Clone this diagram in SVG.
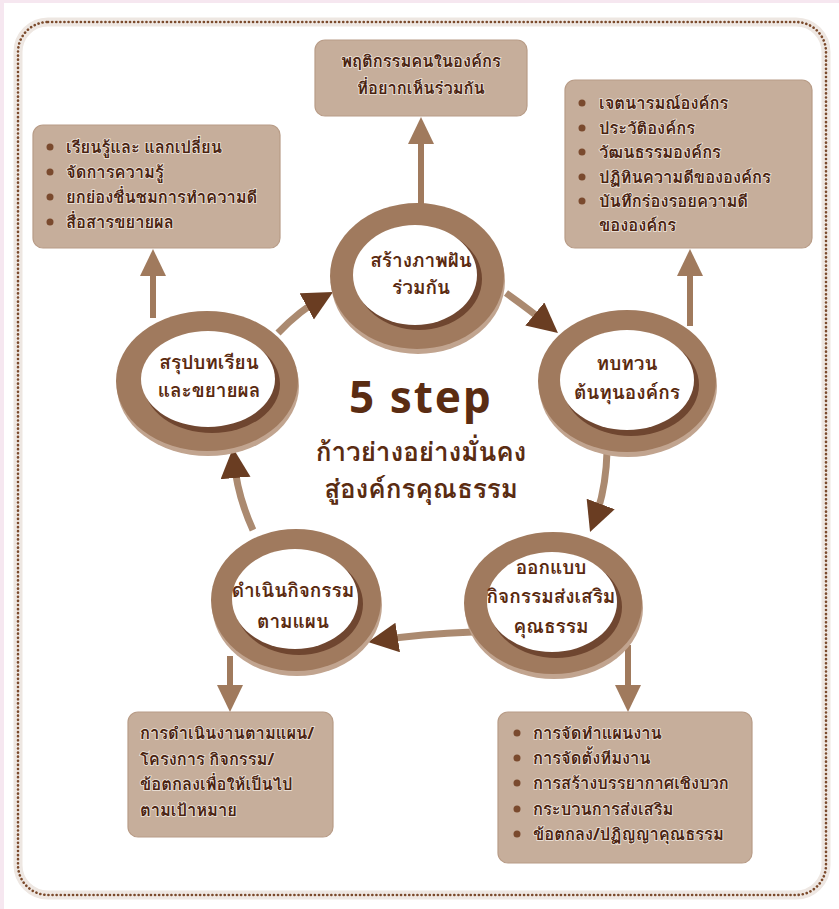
<svg xmlns="http://www.w3.org/2000/svg" width="839" height="909" viewBox="0 0 839 909">
<style>
.bg{fill:#ffffff}
.edge{fill:#f6e7f0}
.frameHalo{fill:none;stroke:#eee7e2;stroke-width:9}
.frame{fill:none;stroke:#7b4a2c;stroke-width:2.6;stroke-dasharray:0.1 4;stroke-linecap:round}
.ringShadow{fill:#c1a48f}
.ring{fill:#a07a5e}
.ringDark{fill:#6f4630}
.ringIn{fill:#ffffff}
.rt{font-family:"Noto Sans","Loma","Garuda","Noto Sans Thai",sans-serif;font-weight:bold;font-size:19px;fill:#5a2a10;text-anchor:middle}
.box{fill:#c6ae9b;stroke:#b89c87;stroke-width:1.2}
.bt{font-family:"Noto Sans","Loma","Garuda","Noto Sans Thai",sans-serif;font-size:16.5px;font-weight:bold;fill:#4a2310;stroke:#efe6de;stroke-width:1.6;paint-order:stroke}
.dot{fill:#7a4a2e}
.flow{fill:none;stroke:#ab8a70;stroke-width:7}
.branch{fill:none;stroke:#a07a5d;stroke-width:6}
.title{font-family:"Noto Sans","Loma","Garuda","Noto Sans Thai",sans-serif;font-weight:bold;fill:#5a2c12;text-anchor:middle}
</style>
<defs>
<marker id="headDark" markerUnits="userSpaceOnUse" markerWidth="32" markerHeight="32" refX="18" refY="15" orient="auto" viewBox="0 0 32 32">
<path d="M0,0 L30,15 L0,30 z" fill="#6a3d22"/>
</marker>
<marker id="headLight" markerUnits="userSpaceOnUse" markerWidth="30" markerHeight="30" refX="16" refY="13" orient="auto" viewBox="0 0 30 30">
<path d="M0,0 L27,13 L0,26 z" fill="#a07a5d"/>
</marker>
</defs>
<rect class="bg" x="0" y="0" width="839" height="909"/>
<rect class="edge" x="0" y="0" width="839" height="3"/>
<rect class="edge" x="0" y="0" width="4" height="909"/>
<rect class="frameHalo" x="18" y="22" width="808" height="873" rx="30"/>
<rect class="frame" x="18" y="22" width="808" height="873" rx="30"/>

<g id="connectors">
<path class="flow" d="M278 333 Q300 310 322.5 297.7" marker-end="url(#headDark)"/>
<path class="flow" d="M506 293 Q530 310 548.7 325.4" marker-end="url(#headDark)"/>
<path class="flow" d="M607 452 Q606 490 594.3 520.8" marker-end="url(#headDark)"/>
<path class="flow" d="M473 632 Q420 634 379.9 640.2" marker-end="url(#headDark)"/>
<path class="flow" d="M253 530 Q237 495 234 460" marker-end="url(#headDark)"/>
<path class="branch" d="M421 204 L421 128" marker-end="url(#headLight)"/>
<path class="branch" d="M153 318 L153 260" marker-end="url(#headLight)"/>
<path class="branch" d="M690 326 L690 260" marker-end="url(#headLight)"/>
<path class="branch" d="M230 656 L230 701" marker-end="url(#headLight)"/>
<path class="branch" d="M628 645 L628 701" marker-end="url(#headLight)"/>
</g>

<g id="step1">
<ellipse class="ringShadow" cx="418" cy="281" rx="87" ry="73"/>
<ellipse class="ring" cx="417" cy="276" rx="87" ry="73"/>
<ellipse class="ringDark" cx="419" cy="279" rx="63" ry="51"/>
<ellipse class="ringIn" cx="415" cy="275" rx="62" ry="50"/>
<text class="rt" x="421" y="267">สร้างภาพฝัน</text>
<text class="rt" x="421" y="294">ร่วมกัน</text>
</g>

<g id="step2">
<ellipse class="ringShadow" cx="628" cy="386" rx="89" ry="71"/>
<ellipse class="ring" cx="627" cy="381" rx="89" ry="71"/>
<ellipse class="ringDark" cx="631" cy="385" rx="68" ry="51"/>
<ellipse class="ringIn" cx="627" cy="380" rx="67" ry="50"/>
<text class="rt" x="627" y="370">ทบทวน</text>
<text class="rt" x="627" y="399">ต้นทุนองค์กร</text>
</g>

<g id="step3">
<ellipse class="ringShadow" cx="554" cy="608" rx="89" ry="71"/>
<ellipse class="ring" cx="553" cy="603" rx="89" ry="71"/>
<ellipse class="ringDark" cx="556" cy="607" rx="66" ry="51"/>
<ellipse class="ringIn" cx="552" cy="602" rx="65" ry="50"/>
<text class="rt" x="551" y="574">ออกแบบ</text>
<text class="rt" x="551" y="603">กิจกรรมส่งเสริม</text>
<text class="rt" x="551" y="633">คุณธรรม</text>
</g>

<g id="step4">
<ellipse class="ringShadow" cx="297" cy="605" rx="85" ry="71"/>
<ellipse class="ring" cx="296" cy="600" rx="85" ry="71"/>
<ellipse class="ringDark" cx="299" cy="604" rx="64" ry="51"/>
<ellipse class="ringIn" cx="295" cy="599" rx="63" ry="50"/>
<text class="rt" x="293" y="597">ดำเนินกิจกรรม</text>
<text class="rt" x="293" y="628">ตามแผน</text>
</g>

<g id="step5">
<ellipse class="ringShadow" cx="208" cy="386" rx="91" ry="70"/>
<ellipse class="ring" cx="207" cy="381" rx="91" ry="70"/>
<ellipse class="ringDark" cx="212" cy="384" rx="68" ry="49"/>
<ellipse class="ringIn" cx="208" cy="379" rx="67" ry="48"/>
<text class="rt" x="209" y="369">สรุปบทเรียน</text>
<text class="rt" x="209" y="397">และขยายผล</text>
</g>

<g id="title">
<text class="title" x="421" y="413" font-size="44" letter-spacing="2">5 step</text>
<text class="title" x="421" y="461" font-size="26">ก้าวย่างอย่างมั่นคง</text>
<text class="title" x="421" y="498" font-size="26">สู่องค์กรคุณธรรม</text>
</g>

<g id="box-vision">
<rect class="box" x="315" y="40" width="212" height="76" rx="10"/>
<text class="bt" x="421" y="67" text-anchor="middle">พฤติกรรมคนในองค์กร</text>
<text class="bt" x="421" y="94" text-anchor="middle">ที่อยากเห็นร่วมกัน</text>
</g>

<g id="box-learn">
<rect class="box" x="33" y="125" width="247" height="123" rx="10"/>
<circle class="dot" cx="50" cy="147" r="3.5"/>
<circle class="dot" cx="50" cy="172" r="3.5"/>
<circle class="dot" cx="50" cy="197" r="3.5"/>
<circle class="dot" cx="50" cy="222" r="3.5"/>
<text class="bt" x="66" y="153">เรียนรู้และ แลกเปลี่ยน</text>
<text class="bt" x="66" y="178">จัดการความรู้</text>
<text class="bt" x="66" y="203">ยกย่องชื่นชมการทำความดี</text>
<text class="bt" x="66" y="228">สื่อสารขยายผล</text>
</g>

<g id="box-capital">
<rect class="box" x="565" y="80" width="247" height="168" rx="10"/>
<circle class="dot" cx="582" cy="103" r="3.5"/>
<circle class="dot" cx="582" cy="128" r="3.5"/>
<circle class="dot" cx="582" cy="152" r="3.5"/>
<circle class="dot" cx="582" cy="177" r="3.5"/>
<circle class="dot" cx="582" cy="201" r="3.5"/>
<text class="bt" x="599" y="109">เจตนารมณ์องค์กร</text>
<text class="bt" x="599" y="134">ประวัติองค์กร</text>
<text class="bt" x="599" y="158">วัฒนธรรมองค์กร</text>
<text class="bt" x="599" y="183">ปฏิทินความดีขององค์กร</text>
<text class="bt" x="599" y="207">บันทึกร่องรอยความดี</text>
<text class="bt" x="599" y="231">ขององค์กร</text>
</g>

<g id="box-execute">
<rect class="box" x="128" y="712" width="205" height="125" rx="10"/>
<text class="bt" x="140" y="739">การดำเนินงานตามแผน/</text>
<text class="bt" x="140" y="765">โครงการ กิจกรรม/</text>
<text class="bt" x="140" y="790">ข้อตกลงเพื่อให้เป็นไป</text>
<text class="bt" x="140" y="816">ตามเป้าหมาย</text>
</g>

<g id="box-design">
<rect class="box" x="498" y="712" width="254" height="151" rx="10"/>
<circle class="dot" cx="517" cy="733" r="3.5"/>
<circle class="dot" cx="517" cy="758" r="3.5"/>
<circle class="dot" cx="517" cy="783" r="3.5"/>
<circle class="dot" cx="517" cy="809" r="3.5"/>
<circle class="dot" cx="517" cy="834" r="3.5"/>
<text class="bt" x="533" y="739">การจัดทำแผนงาน</text>
<text class="bt" x="533" y="764">การจัดตั้งทีมงาน</text>
<text class="bt" x="533" y="789">การสร้างบรรยากาศเชิงบวก</text>
<text class="bt" x="533" y="815">กระบวนการส่งเสริม</text>
<text class="bt" x="533" y="840">ข้อตกลง/ปฏิญญาคุณธรรม</text>
</g>
</svg>
